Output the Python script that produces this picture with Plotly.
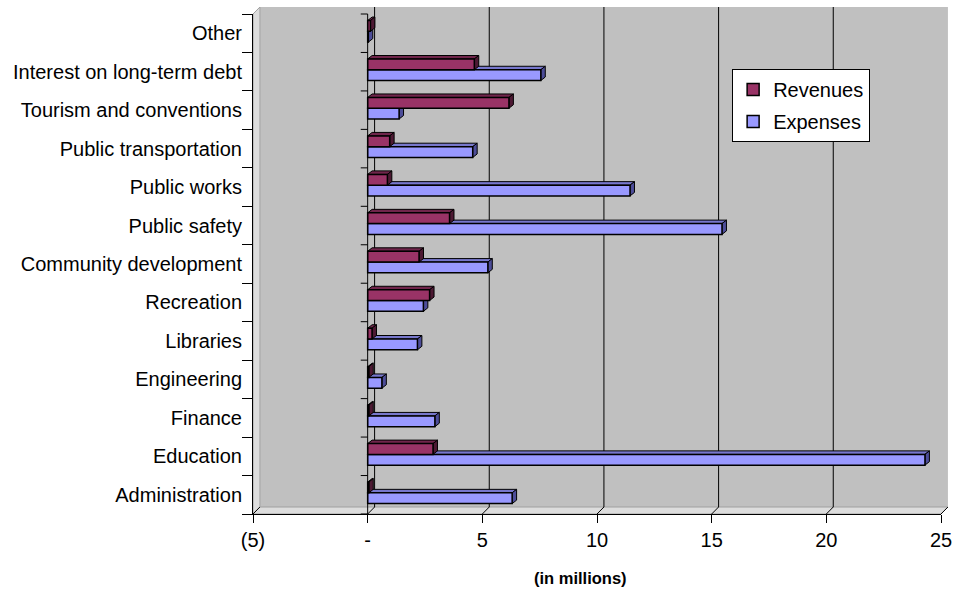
import plotly.graph_objects as go

# Spending categories, bottom to top
categories = [
    "Administration", "Education", "Finance", "Engineering", "Libraries",
    "Recreation", "Community development", "Public safety", "Public works",
    "Public transportation", "Tourism and conventions",
    "Interest on long-term debt", "Other",
]
revenues = [0.05, 2.85, 0.05, 0.05, 0.19, 2.70, 2.24, 3.57, 0.86, 0.96, 6.16, 4.65, 0.12]
expenses = [6.30, 24.30, 2.93, 0.62, 2.17, 2.43, 5.24, 15.45, 11.44, 4.58, 1.37, 7.55, 0.03]

x_tick_vals = [-5, 0, 5, 10, 15, 20, 25]
x_tick_text = ["(5)", "-", "5", "10", "15", "20", "25"]

W, H = 964, 592
M_L, M_R, M_T, M_B = 253, 16, 14, 78
X_MIN, X_MAX = -5, 25
PLOT_W = W - M_L - M_R
PLOT_H = H - M_T - M_B
N = len(categories)

FONT = "Liberation Sans, Arial, sans-serif"
FS = 20
REV_COL, EXP_COL = "#993366", "#9999FF"
REV_TOP, REV_SIDE = "#70254B", "#4D1933"
EXP_TOP, EXP_SIDE = "#7777CC", "#4D4D99"

# geometry of the walls (pixels of depth) and bar depth
WALL_D = 7
BAR_DX, BAR_DY = 4.5, 3.5
bar_dx = BAR_DX * (X_MAX - X_MIN) / PLOT_W
bar_dy = BAR_DY * N / PLOT_H

BAR_W = 0.28
REV_OFF, EXP_OFF = 0.05, -0.23


def xp(v):
    return (v - X_MIN) / (X_MAX - X_MIN)


wdx = WALL_D / PLOT_W
wdy = WALL_D / PLOT_H

shapes = []
# back wall, left wall and floor
shapes.append(dict(type="rect", xref="paper", yref="paper", layer="below",
                   x0=wdx, x1=1 + wdx, y0=wdy, y1=1 + wdy,
                   fillcolor="#C0C0C0", line=dict(width=0)))
shapes.append(dict(type="path", xref="paper", yref="paper", layer="below",
                   path=f"M0,0 L0,1 L{wdx},{1 + wdy} L{wdx},{wdy} Z",
                   fillcolor="#DDDDDD", line=dict(color="#A0A0A0", width=1)))
shapes.append(dict(type="path", xref="paper", yref="paper", layer="below",
                   path=f"M0,0 L1,0 L{1 + wdx},{wdy} L{wdx},{wdy} Z",
                   fillcolor="#DDDDDD", line=dict(color="#A0A0A0", width=1)))
# gridlines on the back wall and their floor connectors
for t in x_tick_vals:
    x0 = xp(t)
    shapes.append(dict(type="line", xref="paper", yref="paper", layer="below",
                       x0=x0, x1=x0 + wdx, y0=0, y1=wdy,
                       line=dict(color="black", width=1)))
    if X_MIN < t < X_MAX:
        shapes.append(dict(type="line", xref="paper", yref="paper", layer="below",
                           x0=x0 + wdx, x1=x0 + wdx, y0=wdy, y1=1 + wdy,
                           line=dict(color="black", width=1)))

# depth faces of the bars (drawn under the bar fronts)
def bar_faces(vals, off, top_col, side_col):
    out = []
    for i, v in enumerate(vals):
        y0 = i + off
        y1 = y0 + BAR_W
        top = (f"M0,{y1} L{v},{y1} L{v + bar_dx},{y1 + bar_dy} "
               f"L{bar_dx},{y1 + bar_dy} Z")
        side = (f"M{v},{y0} L{v},{y1} L{v + bar_dx},{y1 + bar_dy} "
                f"L{v + bar_dx},{y0 + bar_dy} Z")
        for p, c in ((top, top_col), (side, side_col)):
            out.append(dict(type="path", xref="x", yref="y", layer="below",
                            path=p, fillcolor=c,
                            line=dict(color="black", width=1)))
    return out


shapes += bar_faces(expenses, EXP_OFF, EXP_TOP, EXP_SIDE)
shapes += bar_faces(revenues, REV_OFF, REV_TOP, REV_SIDE)

# zero axis in front with its category ticks
z = xp(0)
shapes.append(dict(type="line", xref="paper", yref="paper", layer="above",
                   x0=z, x1=z, y0=0, y1=1, line=dict(color="black", width=1)))
for k in range(N + 1):
    shapes.append(dict(type="line", xref="paper", yref="paper", layer="above",
                       x0=z - 7 / PLOT_W, x1=z, y0=k / N, y1=k / N,
                       line=dict(color="black", width=1)))

fig = go.Figure()
fig.add_trace(go.Bar(
    name="Expenses", y=categories, x=expenses, orientation="h",
    width=BAR_W, offset=EXP_OFF, legendgroup="exp", legendrank=2,
    marker=dict(color=EXP_COL, line=dict(color="black", width=1.5)),
    hoverinfo="x+y",
))
fig.add_trace(go.Bar(
    name="Revenues", y=categories, x=revenues, orientation="h",
    width=BAR_W, offset=REV_OFF, legendgroup="rev", legendrank=1,
    marker=dict(color=REV_COL, line=dict(color="black", width=1.5)),
    hoverinfo="x+y",
))

fig.update_layout(
    width=W, height=H,
    margin=dict(l=M_L, r=M_R, t=M_T, b=M_B, pad=0),
    paper_bgcolor="white", plot_bgcolor="rgba(0,0,0,0)",
    barmode="overlay",
    font=dict(family=FONT, size=FS, color="black"),
    shapes=shapes,
    showlegend=True,
    legend=dict(
        x=(737 - M_L) / PLOT_W, y=1 - (69 - M_T) / PLOT_H,
        xanchor="left", yanchor="top",
        bgcolor="white", bordercolor="black", borderwidth=1,
        traceorder="grouped", tracegroupgap=3,
        itemwidth=30, font=dict(size=FS),
    ),
    annotations=[dict(
        text="<b>(in millions)</b>", xref="paper", yref="paper",
        x=xp(9.3), y=-(578 - M_T - PLOT_H) / PLOT_H,
        xanchor="center", yanchor="middle", showarrow=False,
        font=dict(size=16.5, family=FONT),
    )],
)
fig.update_xaxes(
    range=[X_MIN, X_MAX], tickvals=x_tick_vals, ticktext=x_tick_text,
    showgrid=False, zeroline=False, showline=True, linecolor="black",
    linewidth=1, ticks="outside", ticklen=8, tickcolor="black",
    tickfont=dict(size=FS), fixedrange=True,
)
fig.update_yaxes(
    type="category", categoryorder="array", categoryarray=categories,
    range=[-0.5, N - 0.5], tickson="boundaries",
    showgrid=False, zeroline=False, showline=True, linecolor="black",
    linewidth=1, ticks="outside", ticklen=10, tickcolor="black",
    ticklabelstandoff=6,
    tickfont=dict(size=FS), fixedrange=True,
)

fig.write_html("out.html")
